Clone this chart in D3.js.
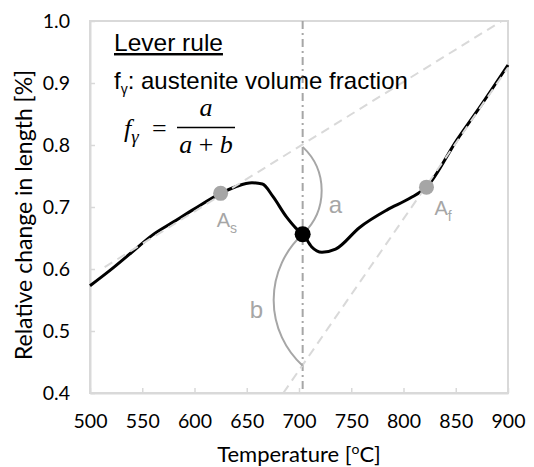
<!DOCTYPE html>
<html>
<head>
<meta charset="utf-8">
<script src="https://cdn.jsdelivr.net/npm/d3@7"></script>
<style>
  body { margin: 0; background: #fff; }
</style>
</head>
<body>
<div class="chart-wrap"></div>
<script>
// dilatometry curve (temperature in degC, relative change in length in %)
const temps = [500, 520, 540, 560, 580, 600, 625, 640, 655, 665, 675, 688, 697, 704, 712, 722, 735, 758, 784, 806, 822, 851, 875, 900];
const strain = [0.573, 0.599, 0.627, 0.655, 0.676, 0.697, 0.722, 0.733, 0.739, 0.737, 0.717, 0.684, 0.666, 0.656, 0.636, 0.627, 0.632, 0.667, 0.695, 0.714, 0.732, 0.808, 0.866, 0.929];
// extrapolated tangent lines
const lowTempLine = [[514, 0.603], [894, 1.0]];
const highTempLine = [[685, 0.4], [900, 0.925]];
// transformation points
const startPoint = [625, 0.722];
const finishPoint = [822, 0.732];
const leverTemp = 703.5;
const leverValues = [0.797, 0.656, 0.444]; // upper line, curve, lower line
const xTicks = [500, 550, 600, 650, 700, 750, 800, 850, 900];
const yTicks = [0.4, 0.5, 0.6, 0.7, 0.8, 0.9, 1.0];

const width = 534, height = 467;
const svg = d3.select(".chart-wrap")
  .append("svg")
  .attr("width", width)
  .attr("height", height);

const x = d3.scaleLinear().domain([500, 900]).range([90, 508]);
const y = d3.scaleLinear().domain([0.4, 1.0]).range([393, 21]);

const frameColor = "#d9d9d9";
const annColor = "#a6a6a6";
const sans = "Liberation Sans, Arial, sans-serif";
const axisFont = "Lato, sans-serif";

// frame
svg.append("rect")
  .attr("x", x(500)).attr("y", y(1.0))
  .attr("width", x(900) - x(500)).attr("height", y(0.4) - y(1.0))
  .attr("fill", "none").attr("stroke", frameColor).attr("stroke-width", 2);

// axes (ticks point inward)
const xAxis = svg.append("g")
  .attr("transform", `translate(0,${y(0.4)})`)
  .call(d3.axisBottom(x).tickValues(xTicks).tickSizeInner(-5).tickSizeOuter(0).tickPadding(21).tickFormat(d3.format("d")));
const yAxis = svg.append("g")
  .attr("transform", `translate(${x(500)},0)`)
  .call(d3.axisLeft(y).tickValues(yTicks).tickSizeInner(-5).tickSizeOuter(0).tickPadding(20).tickFormat(d3.format(".1f")));
[xAxis, yAxis].forEach(g => {
  g.select(".domain").attr("stroke", frameColor).attr("stroke-width", 2);
  g.selectAll(".tick line").attr("stroke", frameColor).attr("stroke-width", 1.5);
  g.selectAll(".tick text").attr("fill", "#000").style("font-size", "19.5px").style("font-family", axisFont);
});

// axis titles
const xTitle = svg.append("text")
  .attr("x", (x(500) + x(900)) / 2).attr("y", 462)
  .attr("text-anchor", "middle").style("font-size", "22px").style("font-family", axisFont);
xTitle.append("tspan").text("Temperature [");
xTitle.append("tspan").attr("dy", -8).style("font-size", "14px").text("o");
xTitle.append("tspan").attr("dy", 8).text("C]");

svg.append("text")
  .attr("transform", `translate(32,${(y(0.4) + y(1.0)) / 2 + 8}) rotate(-90)`)
  .attr("text-anchor", "middle").style("font-size", "23px").style("font-family", axisFont)
  .text("Relative change in length [%]");

// vertical lever line
svg.append("line")
  .attr("x1", x(leverTemp)).attr("x2", x(leverTemp))
  .attr("y1", y(1.0)).attr("y2", y(0.4))
  .attr("stroke", annColor).attr("stroke-width", 2)
  .attr("stroke-dasharray", "8,4,2,4");

// black measured curve
const line = d3.line().x(d => x(d[0])).y(d => y(d[1])).curve(d3.curveMonotoneX);
svg.append("path")
  .datum(temps.map((t, i) => [t, strain[i]]))
  .attr("d", line)
  .attr("fill", "none").attr("stroke", "#000").attr("stroke-width", 3);

// tangent lines (dashed, on top)
[lowTempLine, highTempLine].forEach(l => {
  svg.append("path")
    .datum(l)
    .attr("d", d3.line().x(d => x(d[0])).y(d => y(d[1])))
    .attr("fill", "none").attr("stroke", frameColor).attr("stroke-width", 2)
    .attr("stroke-dasharray", "9,6");
});

// arcs a and b
function arcPath(v1, v2, bulge) {
  const xa = x(leverTemp), y1 = y(v1), y2 = y(v2);
  const L = Math.abs(y2 - y1), s = Math.abs(bulge);
  const r = (L * L / 4 + s * s) / (2 * s);
  const sweep = bulge > 0 ? 1 : 0;
  return `M${xa},${y1} A${r},${r} 0 0 ${sweep} ${xa},${y2}`;
}
svg.append("path").attr("d", arcPath(leverValues[0], leverValues[1], 19))
  .attr("fill", "none").attr("stroke", annColor).attr("stroke-width", 2);
svg.append("path").attr("d", arcPath(leverValues[1], leverValues[2], -29))
  .attr("fill", "none").attr("stroke", annColor).attr("stroke-width", 2);

svg.append("text").attr("x", x(leverTemp) + 26).attr("y", y(0.69))
  .attr("fill", annColor).style("font-family", sans).style("font-size", "24px").text("a");
svg.append("text").attr("x", x(leverTemp) - 53).attr("y", y(0.521))
  .attr("fill", annColor).style("font-family", sans).style("font-size", "24px").text("b");

// points
svg.selectAll(".trans-pt")
  .data([startPoint, finishPoint])
  .enter()
  .append("circle")
  .attr("class", "trans-pt")
  .attr("cx", d => x(d[0])).attr("cy", d => y(d[1]))
  .attr("r", 7.5).attr("fill", annColor);
svg.append("circle")
  .attr("cx", x(leverTemp)).attr("cy", y(leverValues[1]))
  .attr("r", 8).attr("fill", "#000");

// A_s, A_f labels
function subLabel(px, py, main, sub) {
  const t = svg.append("text").attr("x", px).attr("y", py)
    .attr("fill", annColor).style("font-family", sans).style("font-size", "20px");
  t.append("tspan").text(main);
  t.append("tspan").attr("dy", 6).style("font-size", "14px").text(sub);
}
subLabel(x(startPoint[0]) - 4, y(startPoint[1]) + 34, "A", "s");
subLabel(x(finishPoint[0]) + 8, y(finishPoint[1]) + 28, "A", "f");

// annotation text
svg.append("text").attr("x", 114).attr("y", 51)
  .style("font-family", sans).style("font-size", "24.5px")
  .style("text-decoration", "underline").text("Lever rule");
const fl = svg.append("text").attr("x", 114).attr("y", 89)
  .style("font-family", sans).style("font-size", "24px");
fl.append("tspan").text("f");
fl.append("tspan").attr("dy", 5).style("font-size", "14px").text("γ");
fl.append("tspan").attr("dy", -5).text(": austenite volume fraction");

// formula
const serif = "Liberation Serif, DejaVu Serif, serif";
function eqText(px, py, anchor) {
  return svg.append("text").attr("x", px).attr("y", py).attr("text-anchor", anchor)
    .style("font-family", serif).style("font-style", "italic").style("font-size", "26px");
}
const fe = eqText(124, 137, "start");
fe.append("tspan").text("f");
fe.append("tspan").attr("dy", 6).style("font-size", "19px").text("γ");
eqText(152, 137, "start").style("font-style", "normal").text("=");
eqText(206, 116, "middle").text("a");
svg.append("line").attr("x1", 177).attr("x2", 235).attr("y1", 127.5).attr("y2", 127.5)
  .attr("stroke", "#000").attr("stroke-width", 1.3);
const den = eqText(206, 153, "middle");
den.append("tspan").text("a");
den.append("tspan").style("font-style", "normal").text(" + ");
den.append("tspan").text("b");
</script>
</body>
</html>
